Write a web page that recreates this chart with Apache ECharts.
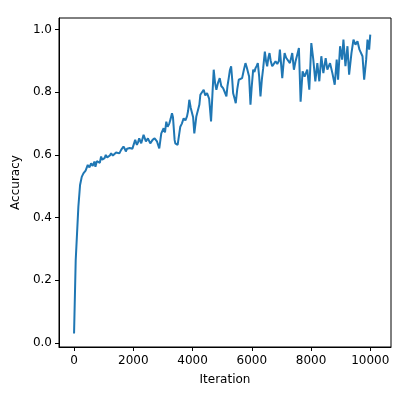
<!DOCTYPE html>
<html>
<head>
<meta charset="utf-8">
<script src="https://cdn.jsdelivr.net/npm/echarts@6/dist/echarts.min.js"></script>
<style>
  html, body { margin: 0; padding: 0; background: #fff; }
  #chart { width: 407px; height: 393px; }
</style>
</head>
<body>
<div id="chart"></div>
<script>
// iteration / accuracy pairs
var iterations = [
  0, 56, 146, 203, 260, 316, 390, 463, 520, 575, 630, 688, 722, 770, 824, 870, 914, 950, 993, 1030,
  1072, 1120, 1162, 1210, 1252, 1310, 1365, 1420, 1478, 1530, 1590, 1630, 1669, 1710, 1748, 1790, 1838, 1880, 1929, 1970,
  2008, 2064, 2121, 2160, 2200, 2268, 2347, 2426, 2494, 2573, 2652, 2720, 2800, 2877, 2945, 3024, 3070, 3114, 3160, 3215,
  3260, 3306, 3340, 3395, 3418, 3497, 3540, 3587, 3640, 3700, 3760, 3813, 3850, 3891, 3940, 3982, 4020, 4060, 4100, 4128,
  4185, 4230, 4264, 4320, 4376, 4430, 4490, 4560, 4625, 4670, 4715, 4760, 4805, 4860, 4918, 4970, 5032, 5090, 5144, 5180,
  5222, 5260, 5303, 5340, 5371, 5420, 5459, 5510, 5561, 5620, 5674, 5730, 5787, 5830, 5866, 5910, 5956, 6000, 6047, 6090,
  6126, 6170, 6204, 6250, 6294, 6340, 6385, 6441, 6480, 6520, 6560, 6599, 6640, 6689, 6740, 6802, 6860, 6915, 6949, 6990,
  7029, 7070, 7108, 7160, 7221, 7287, 7366, 7422, 7480, 7535, 7591, 7648, 7716, 7783, 7874, 7942, 8010, 8077, 8145, 8213,
  8280, 8348, 8416, 8495, 8551, 8642, 8721, 8800, 8867, 8913, 8981, 9049, 9094, 9162, 9230, 9286, 9365, 9433, 9500, 9568,
  9636, 9681, 9738, 9794, 9862, 9907, 9963, 10000
];
var accuracy = [
  0.03, 0.264, 0.435, 0.504, 0.53, 0.541, 0.55, 0.568, 0.56, 0.573, 0.565, 0.579, 0.562, 0.58, 0.584, 0.575, 0.595, 0.585, 0.579, 0.59,
  0.6, 0.592, 0.589, 0.598, 0.605, 0.598, 0.6, 0.608, 0.611, 0.605, 0.616, 0.61, 0.627, 0.62, 0.611, 0.62, 0.616, 0.622, 0.616, 0.62,
  0.621, 0.648, 0.632, 0.64, 0.653, 0.637, 0.664, 0.643, 0.653, 0.637, 0.648, 0.653, 0.643, 0.621, 0.669, 0.685, 0.672, 0.706, 0.69, 0.7,
  0.715, 0.733, 0.72, 0.648, 0.637, 0.632, 0.66, 0.69, 0.7, 0.717, 0.71, 0.723, 0.74, 0.776, 0.75, 0.744, 0.72, 0.669, 0.7, 0.723,
  0.723, 0.76, 0.792, 0.795, 0.808, 0.79, 0.797, 0.78, 0.707, 0.79, 0.872, 0.83, 0.808, 0.83, 0.845, 0.82, 0.813, 0.8, 0.787, 0.82,
  0.845, 0.87, 0.883, 0.84, 0.797, 0.78, 0.765, 0.81, 0.84, 0.835, 0.845, 0.87, 0.893, 0.88, 0.883, 0.85, 0.76, 0.82, 0.872, 0.865,
  0.877, 0.885, 0.893, 0.85, 0.787, 0.84, 0.877, 0.93, 0.9, 0.883, 0.91, 0.925, 0.9, 0.883, 0.89, 0.899, 0.89, 0.9, 0.936, 0.89,
  0.845, 0.89, 0.925, 0.91, 0.915, 0.893, 0.925, 0.872, 0.9, 0.92, 0.941, 0.77, 0.867, 0.85, 0.872, 0.808, 0.957, 0.904, 0.835, 0.893,
  0.835, 0.915, 0.861, 0.909, 0.872, 0.893, 0.861, 0.824, 0.904, 0.84, 0.947, 0.904, 0.968, 0.883, 0.947, 0.856, 0.925, 0.968, 0.952, 0.963,
  0.936, 0.941, 0.915, 0.84, 0.904, 0.968, 0.936, 0.984
];
var xTicks = [0, 2000, 4000, 6000, 8000, 10000];
var yTicks = [0, 0.2, 0.4, 0.6, 0.8, 1.0];

var chart = echarts.init(document.getElementById('chart'));
var font = 'DejaVu Sans';

var points = iterations.map(function (x, i) { return [x, accuracy[i]]; });

var option = {
  animation: false,
  backgroundColor: '#fff',
  grid: {
    left: 59, right: 16, top: 18, bottom: 46,
    show: true, borderColor: '#000', borderWidth: 1
  },
  xAxis: {
    type: 'value',
    min: -508, max: 10700,
    name: 'Iteration',
    nameLocation: 'middle',
    nameGap: 27,
    nameTextStyle: { fontFamily: font, fontSize: 12, color: '#000' },
    splitLine: { show: false },
    axisLine: { show: true, onZero: false, lineStyle: { color: '#000', width: 1 } },
    axisTick: { show: true, length: 4, customValues: xTicks, lineStyle: { color: '#000' } },
    axisLabel: {
      customValues: xTicks, margin: 8,
      fontFamily: font, fontSize: 12, color: '#000',
      formatter: function (v) { return String(v); }
    }
  },
  yAxis: {
    type: 'value',
    min: -0.013, max: 1.037,
    name: 'Accuracy',
    nameLocation: 'middle',
    nameGap: 36,
    nameTextStyle: { fontFamily: font, fontSize: 12, color: '#000' },
    splitLine: { show: false },
    axisLine: { show: true, onZero: false, lineStyle: { color: '#000', width: 1 } },
    axisTick: { show: true, length: 4, customValues: yTicks, lineStyle: { color: '#000' } },
    axisLabel: {
      customValues: yTicks, margin: 7,
      fontFamily: font, fontSize: 12, color: '#000',
      formatter: function (v) { return v.toFixed(1); }
    }
  },
  series: [{
    type: 'line',
    data: points,
    showSymbol: false,
    lineStyle: { color: '#1f77b4', width: 2 }
  }]
};
chart.setOption(option);
</script>
</body>
</html>
